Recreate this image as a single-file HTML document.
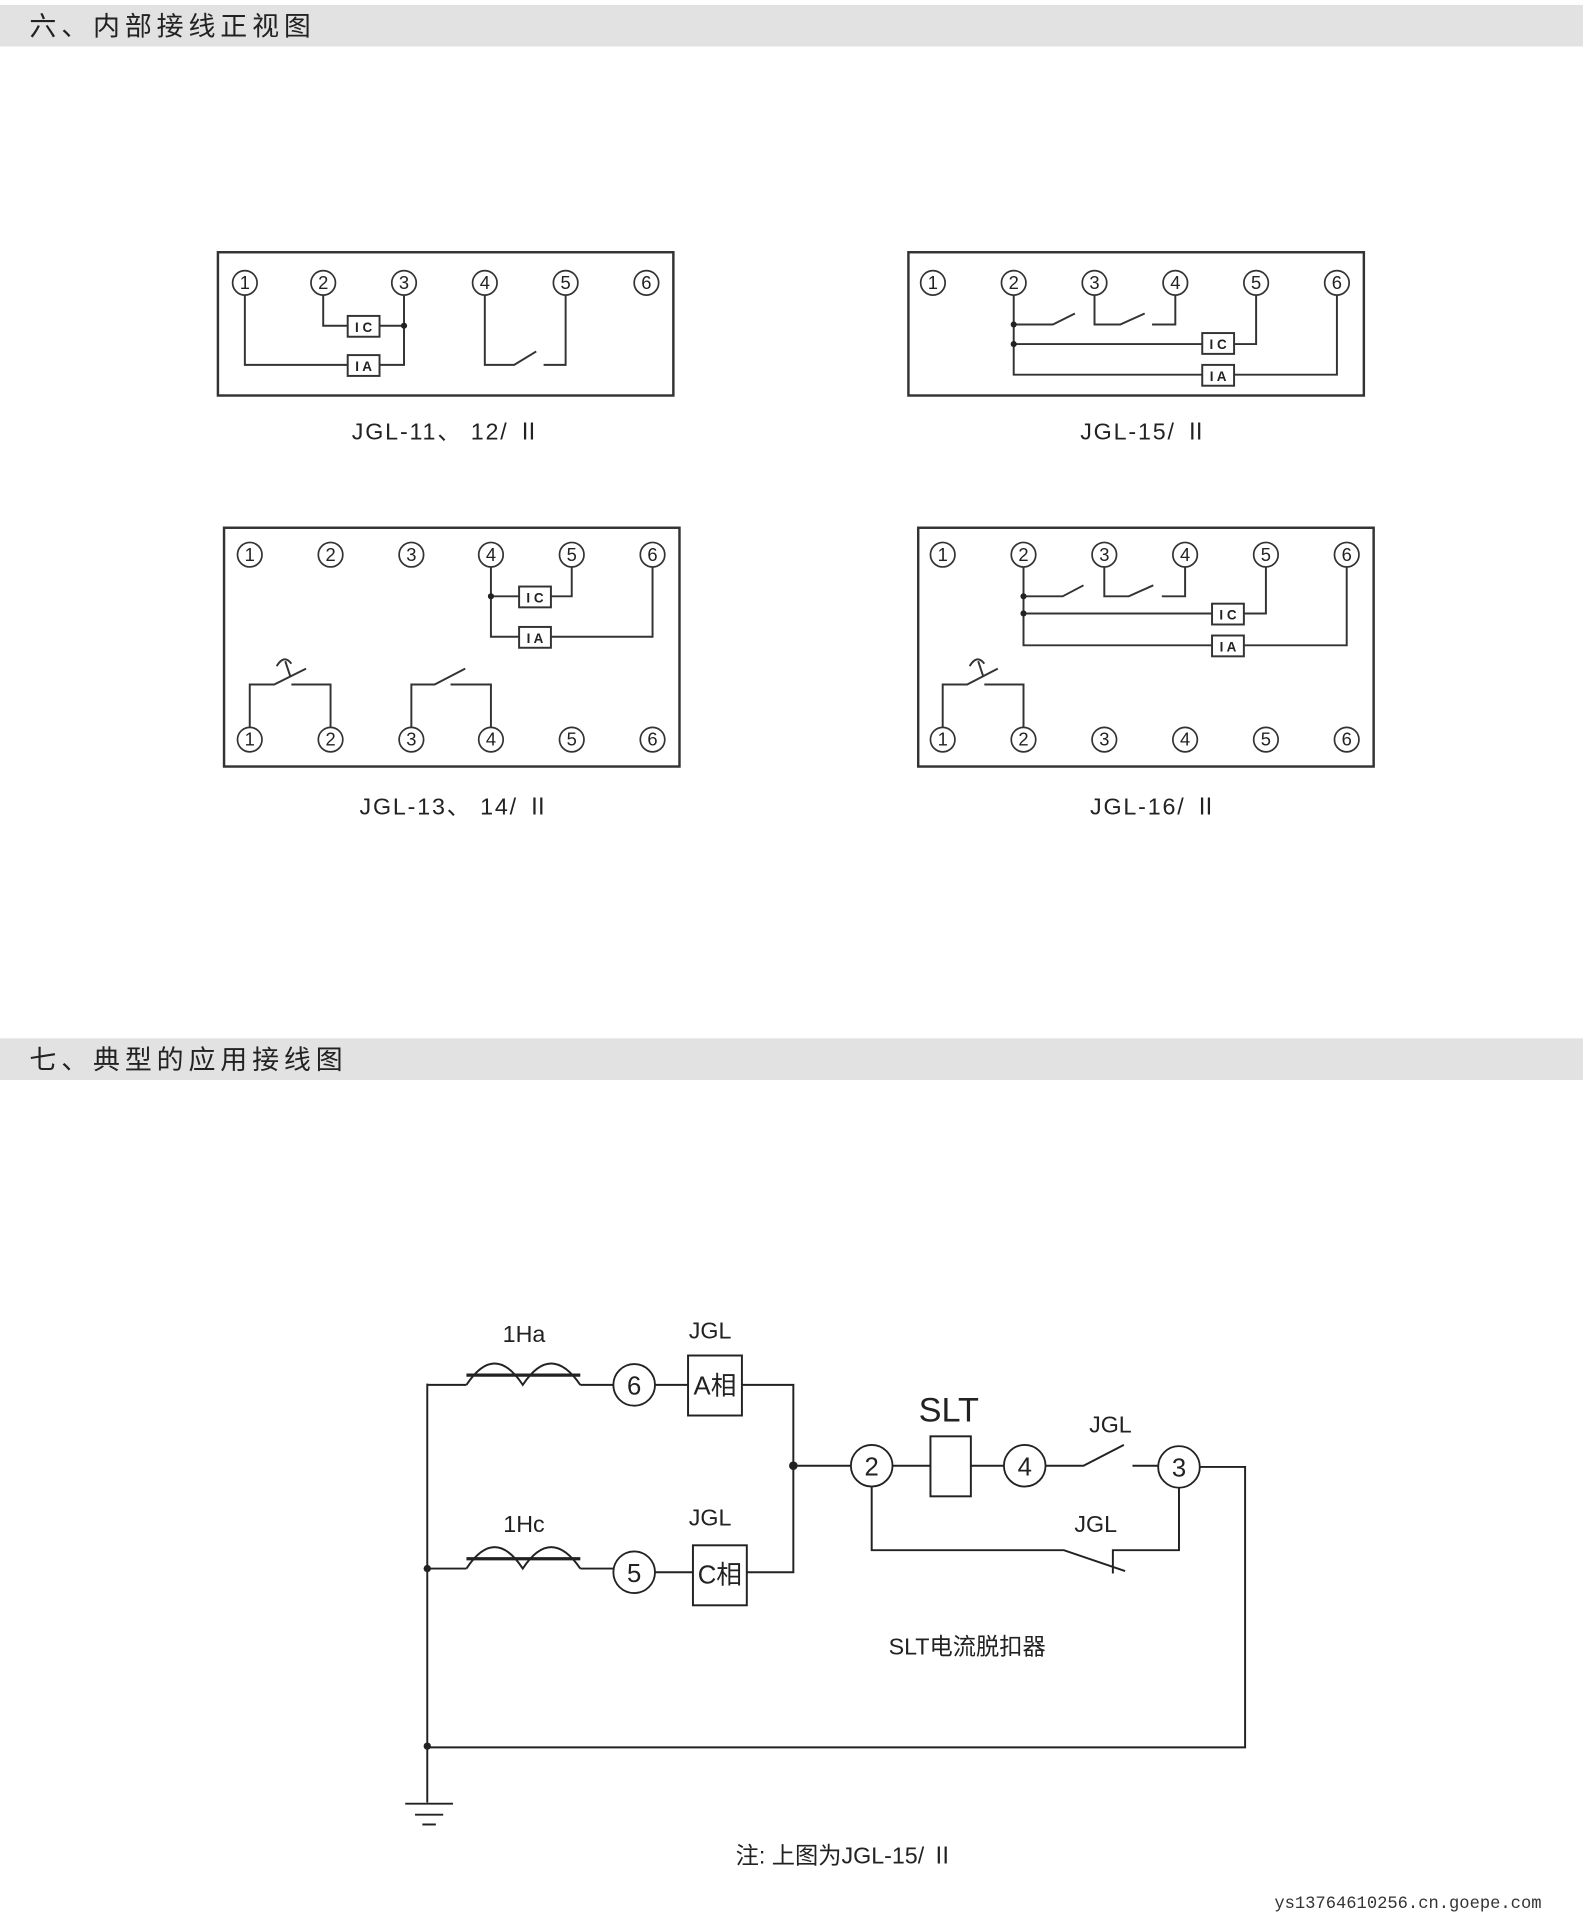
<!DOCTYPE html>
<html><head><meta charset="utf-8"><style>html,body{margin:0;padding:0;background:#fff}svg{display:block}</style></head><body>
<svg xmlns="http://www.w3.org/2000/svg" width="1583" height="1920" viewBox="0 0 1293 1568" preserveAspectRatio="none" font-family="Liberation Sans, Noto Sans CJK SC, sans-serif">
<rect x="0" y="4" width="1293" height="34" fill="#e2e2e2"/>
<text x="24" y="29" font-size="22" letter-spacing="4" fill="#222" font-family="Noto Sans CJK SC, sans-serif">六、内部接线正视图</text>
<rect x="0" y="848" width="1293" height="34" fill="#e2e2e2"/>
<text x="24" y="873" font-size="22" letter-spacing="4" fill="#222" font-family="Noto Sans CJK SC, sans-serif">七、典型的应用接线图</text>
<g fill="none" stroke="#333" stroke-width="1.6">
<rect x="178" y="206" width="372" height="117" stroke-width="2"/>
<polyline points="264,241 264,266 284,266"/><polyline points="310,266 330,266"/>
<polyline points="330,241 330,298 310,298"/><polyline points="200,241 200,298 284,298"/>
<rect x="284" y="258" width="26" height="17"/><rect x="284" y="290" width="26" height="17"/>
<polyline points="396,241 396,298 420,298 438,287"/><polyline points="444,298 462,298 462,241"/>
<rect x="742" y="206" width="372" height="117" stroke-width="2"/>
<polyline points="828,241 828,306 982,306"/><polyline points="828,265 860,265 878,256"/>
<polyline points="894,241 894,265 915,265 935,256"/><polyline points="941,265 960,265 960,241"/>
<polyline points="828,281 982,281"/><polyline points="1008,281 1026,281 1026,241"/>
<polyline points="1008,306 1092,306 1092,241"/>
<rect x="982" y="272" width="26" height="17"/><rect x="982" y="298" width="26" height="17"/>
<rect x="183" y="431" width="372" height="195" stroke-width="2"/>
<polyline points="401,463 401,520 424,520"/><polyline points="401,487 424,487"/>
<polyline points="450,487 467,487 467,463"/><polyline points="450,520 533,520 533,463"/>
<rect x="424" y="479" width="26" height="17"/><rect x="424" y="512" width="26" height="17"/>
<polyline points="204,594 204,559 224,559 250,546"/><polyline points="238,559 270,559 270,594"/>
<path d="M237,552 L233,540 M226,544 Q232,534 238,542"/>
<polyline points="336,594 336,559 355,559 380,546"/><polyline points="368,559 401,559 401,594"/>
<rect x="750" y="431" width="372" height="195" stroke-width="2"/>
<polyline points="836,463 836,527 990,527"/><polyline points="836,487 868,487 885,478"/>
<polyline points="902,463 902,487 922,487 942,478"/><polyline points="949,487 968,487 968,463"/>
<polyline points="836,501 990,501"/><polyline points="1016,501 1034,501 1034,463"/>
<polyline points="1016,527 1100,527 1100,463"/>
<rect x="990" y="493" width="26" height="17"/><rect x="990" y="519" width="26" height="17"/>
<polyline points="770,594 770,559 790,559 815,546"/><polyline points="804,559 836,559 836,594"/>
<path d="M803,552 L799,540 M792,544 Q798,534 804,542"/>
</g>
<g fill="#fff" stroke="#333" stroke-width="1.4">
<circle cx="200" cy="231" r="10"/><circle cx="264" cy="231" r="10"/><circle cx="330" cy="231" r="10"/><circle cx="396" cy="231" r="10"/><circle cx="462" cy="231" r="10"/><circle cx="528" cy="231" r="10"/>
<circle cx="762" cy="231" r="10"/><circle cx="828" cy="231" r="10"/><circle cx="894" cy="231" r="10"/><circle cx="960" cy="231" r="10"/><circle cx="1026" cy="231" r="10"/><circle cx="1092" cy="231" r="10"/>
<circle cx="204" cy="453" r="10"/><circle cx="270" cy="453" r="10"/><circle cx="336" cy="453" r="10"/><circle cx="401" cy="453" r="10"/><circle cx="467" cy="453" r="10"/><circle cx="533" cy="453" r="10"/>
<circle cx="204" cy="604" r="10"/><circle cx="270" cy="604" r="10"/><circle cx="336" cy="604" r="10"/><circle cx="401" cy="604" r="10"/><circle cx="467" cy="604" r="10"/><circle cx="533" cy="604" r="10"/>
<circle cx="770" cy="453" r="10"/><circle cx="836" cy="453" r="10"/><circle cx="902" cy="453" r="10"/><circle cx="968" cy="453" r="10"/><circle cx="1034" cy="453" r="10"/><circle cx="1100" cy="453" r="10"/>
<circle cx="770" cy="604" r="10"/><circle cx="836" cy="604" r="10"/><circle cx="902" cy="604" r="10"/><circle cx="968" cy="604" r="10"/><circle cx="1034" cy="604" r="10"/><circle cx="1100" cy="604" r="10"/>
</g>
<g font-size="15" text-anchor="middle" fill="#222">
<text x="200" y="236">1</text><text x="264" y="236">2</text><text x="330" y="236">3</text><text x="396" y="236">4</text><text x="462" y="236">5</text><text x="528" y="236">6</text>
<text x="762" y="236">1</text><text x="828" y="236">2</text><text x="894" y="236">3</text><text x="960" y="236">4</text><text x="1026" y="236">5</text><text x="1092" y="236">6</text>
<text x="204" y="458">1</text><text x="270" y="458">2</text><text x="336" y="458">3</text><text x="401" y="458">4</text><text x="467" y="458">5</text><text x="533" y="458">6</text>
<text x="204" y="609">1</text><text x="270" y="609">2</text><text x="336" y="609">3</text><text x="401" y="609">4</text><text x="467" y="609">5</text><text x="533" y="609">6</text>
<text x="770" y="458">1</text><text x="836" y="458">2</text><text x="902" y="458">3</text><text x="968" y="458">4</text><text x="1034" y="458">5</text><text x="1100" y="458">6</text>
<text x="770" y="609">1</text><text x="836" y="609">2</text><text x="902" y="609">3</text><text x="968" y="609">4</text><text x="1034" y="609">5</text><text x="1100" y="609">6</text>
</g>
<g font-size="11" font-weight="bold" text-anchor="middle" fill="#222">
<text x="297" y="271">I C</text><text x="297" y="303">I A</text>
<text x="995" y="285">I C</text><text x="995" y="311">I A</text>
<text x="437" y="492">I C</text><text x="437" y="525">I A</text>
<text x="1003" y="506">I C</text><text x="1003" y="532">I A</text>
</g>
<g fill="#222"><circle cx="330" cy="266" r="2.5"/><circle cx="828" cy="265" r="2.5"/><circle cx="828" cy="281" r="2.5"/><circle cx="401" cy="487" r="2.5"/><circle cx="836" cy="487" r="2.5"/><circle cx="836" cy="501" r="2.5"/></g>
<g font-size="19" fill="#222" text-anchor="middle" letter-spacing="1.5">
<text x="365" y="359">JGL-11、 12/ Ⅱ</text><text x="935" y="359">JGL-15/ Ⅱ</text>
<text x="372" y="665">JGL-13、 14/ Ⅱ</text><text x="943" y="665">JGL-16/ Ⅱ</text>
</g>
<g fill="none" stroke="#222" stroke-width="1.6">
<polyline points="349,1130 349,1472"/>
<polyline points="349,1131 381,1131"/><polyline points="474,1131 501,1131"/>
<line x1="381" y1="1123" x2="474" y2="1123" stroke-width="2.6"/>
<path d="M381,1131 Q404,1096 427,1131 Q450,1096 474,1131"/>
<polyline points="349,1281 381,1281"/><polyline points="474,1281 501,1281"/>
<line x1="381" y1="1273" x2="474" y2="1273" stroke-width="2.6"/>
<path d="M381,1281 Q404,1246 427,1281 Q450,1246 474,1281"/>
<line x1="535" y1="1131" x2="562" y2="1131"/><rect x="562" y="1107" width="44" height="49"/>
<polyline points="606,1131 648,1131 648,1284 610,1284"/>
<line x1="535" y1="1284" x2="566" y2="1284"/><rect x="566" y="1262" width="44" height="49"/>
<line x1="648" y1="1197" x2="695" y2="1197"/><line x1="729" y1="1197" x2="760" y2="1197"/>
<rect x="760" y="1173" width="33" height="49"/><line x1="793" y1="1197" x2="820" y2="1197"/>
<polyline points="854,1197 885,1197 918,1180"/><polyline points="925,1197 946,1197"/>
<polyline points="980,1198 1017,1198 1017,1427 349,1427"/>
<polyline points="712,1214 712,1266 869,1266 919,1283"/><polyline points="909,1285 909,1266 963,1266 963,1215"/>
<line x1="331" y1="1473" x2="370" y2="1473"/><line x1="339" y1="1482" x2="362" y2="1482"/><line x1="345" y1="1490" x2="356" y2="1490"/>
</g>
<g fill="#fff" stroke="#222" stroke-width="1.5">
<circle cx="518" cy="1131" r="17"/><circle cx="518" cy="1284" r="17"/><circle cx="712" cy="1197" r="17"/><circle cx="837" cy="1197" r="17"/><circle cx="963" cy="1198" r="17"/>
</g>
<g fill="#222"><circle cx="648" cy="1197" r="3.5"/><circle cx="349" cy="1281" r="3"/><circle cx="349" cy="1426" r="3"/></g>
<g font-size="21" fill="#222" text-anchor="middle">
<text x="518" y="1139">6</text><text x="518" y="1292">5</text><text x="712" y="1205">2</text><text x="837" y="1205">4</text><text x="963" y="1206">3</text>
<text x="584" y="1139">A相</text><text x="588" y="1293">C相</text>
<text x="428" y="1096" font-size="19">1Ha</text><text x="580" y="1093" font-size="19">JGL</text>
<text x="428" y="1251" font-size="19">1Hc</text><text x="580" y="1246" font-size="19">JGL</text>
<text x="775" y="1161" font-size="28">SLT</text>
<text x="907" y="1170" font-size="19">JGL</text><text x="895" y="1251" font-size="19">JGL</text>
<text x="790" y="1351" font-size="19">SLT电流脱扣器</text>
<text x="690" y="1522" font-size="19">注:  上图为JGL-15/ Ⅱ</text>
</g>
<text x="1150" y="1558" font-size="14" fill="#333" text-anchor="middle" font-family="Liberation Mono, monospace">ys13764610256.cn.goepe.com</text>
</svg>
</body></html>
